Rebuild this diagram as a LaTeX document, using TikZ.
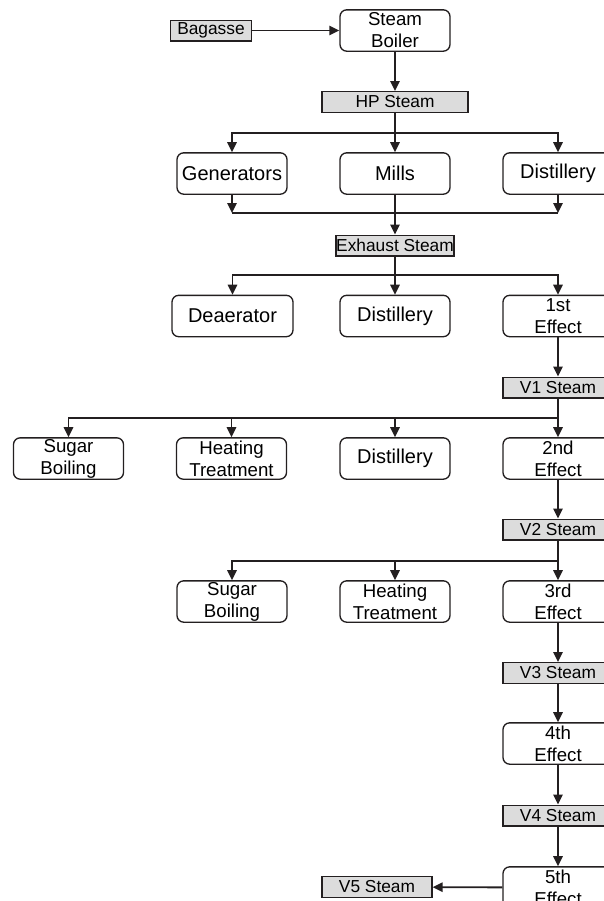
\documentclass[tikz,border=0pt]{standalone}
\usepackage{fontspec}
\setmainfont{Liberation Sans}
\usetikzlibrary{arrows.meta}

\definecolor{lineink}{RGB}{35,31,32}
\definecolor{steamgray}{RGB}{220,220,220}

\tikzset{
  procbox/.style={draw=lineink, line width=1pt, rounded corners=5pt, fill=white,
    minimum width=82.5pt, minimum height=31pt, inner sep=0pt, align=center,
    font=\fontsize{15}{17}\selectfont},
  twoline/.style={font=\fontsize{14}{16.5}\selectfont},
  steambox/.style={draw=lineink, line width=1pt, fill=steamgray,
    minimum width=82.5pt, minimum height=15.5pt, inner sep=0pt,
    font=\fontsize{13}{14}\selectfont},
  flow/.style={draw=lineink, line width=1.4pt, -{Triangle[length=7.5pt,width=7pt]}},
  pipe/.style={draw=lineink, line width=1.4pt}
}

\begin{document}
\begin{tikzpicture}[x=0.75pt,y=0.75pt,yscale=-1,xscale=1]
\useasboundingbox (0,0) rectangle (604,901);
\clip (0,0) rectangle (604,901);

% boiler
\node [steambox, minimum width=60.75pt] (bagasse) at (211,30.5) {Bagasse};
\node [procbox, twoline] (boiler) at (395,30.5) {Steam\\Boiler};
\node [steambox, minimum width=109.5pt] (hp) at (395,102) {HP Steam};

% hp steam users
\node [procbox] (gen) at (232,173.5) {Generators};
\node [procbox] (mills) at (395,173.5) {Mills};
\node [procbox] (distA) at (558,173.5) {Distillery};
\node [steambox, minimum width=88.5pt] (exhaust) at (395,245.5) {Exhaust Steam};

% exhaust users
\node [procbox, minimum width=90.75pt] (deaer) at (232.5,316) {Deaerator};
\node [procbox] (distB) at (395,316) {Distillery};
\node [procbox, twoline] (effA) at (558,316) {1st\\Effect};
\node [steambox] (vA) at (558,387.5) {V1 Steam};

% v1 users
\node [procbox, twoline] (sugarA) at (68.5,458.5) {Sugar\\Boiling};
\node [procbox, twoline] (heatA) at (231.5,458.5) {Heating\\Treatment};
\node [procbox] (distC) at (395,458.5) {Distillery};
\node [procbox, twoline] (effB) at (558,458.5) {2nd\\Effect};
\node [steambox] (vB) at (558,529.5) {V2 Steam};

% v2 users
\node [procbox, twoline] (sugarB) at (232,601.5) {Sugar\\Boiling};
\node [procbox, twoline] (heatB) at (395,601.5) {Heating\\Treatment};
\node [procbox, twoline] (effC) at (558,601.5) {3rd\\Effect};
\node [steambox] (vC) at (558,673) {V3 Steam};

% last effects
\node [procbox, twoline] (effD) at (558,743.5) {4th\\Effect};
\node [steambox] (vD) at (558,815.5) {V4 Steam};
\node [procbox, twoline] (effE) at (558,887.5) {5th\\Effect};
\node [steambox] (vE) at (377,887) {V5 Steam};

% junctions
\coordinate (hpsplit) at (395,133);
\coordinate (exjoin) at (395,213);
\coordinate (exsplit) at (395,275);
\coordinate (vAsplit) at (558,418);
\coordinate (vBsplit) at (558,561);

\draw [flow] (bagasse) -- (boiler);
\draw [flow] (boiler) -- (hp);

\draw [pipe] (hp) -- (hpsplit);
\draw [flow] (hpsplit) -| (gen);
\draw [flow] (hpsplit) -- (mills);
\draw [flow] (hpsplit) -| (distA);

\draw [flow] (gen) -- (gen.south |- exjoin);
\draw [flow] (distA) -- (distA.south |- exjoin);
\draw [pipe] (gen.south |- exjoin) -- (distA.south |- exjoin);
\draw [flow] (mills) -- (exhaust);

\draw [pipe] (exhaust) -- (exsplit);
\draw [flow] (exsplit) -| (deaer);
\draw [flow] (exsplit) -- (distB);
\draw [flow] (exsplit) -| (effA);

\draw [flow] (effA) -- (vA);
\draw [pipe] (vA) -- (vAsplit);
\draw [flow] (vAsplit) -| (sugarA);
\draw [flow] (vAsplit) -| (heatA);
\draw [flow] (vAsplit) -| (distC);
\draw [flow] (vAsplit) -- (effB);

\draw [flow] (effB) -- (vB);
\draw [pipe] (vB) -- (vBsplit);
\draw [flow] (vBsplit) -| (sugarB);
\draw [flow] (vBsplit) -| (heatB);
\draw [flow] (vBsplit) -- (effC);

\draw [flow] (effC) -- (vC);
\draw [flow] (vC) -- (effD);
\draw [flow] (effD) -- (vD);
\draw [flow] (vD) -- (effE);
\draw [flow] (effE) -- (vE);

\end{tikzpicture}
\end{document}
